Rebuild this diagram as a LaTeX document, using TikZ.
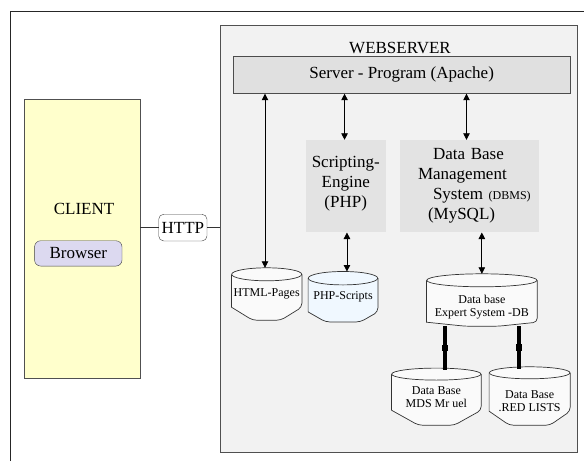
\documentclass[tikz,border=0pt]{standalone}
\usepackage{fontspec}
\setmainfont{Liberation Serif}
\usetikzlibrary{arrows.meta,calc}
\definecolor{webbg}{HTML}{F2F2F2}
\definecolor{apachebg}{HTML}{E0E0E0}
\definecolor{boxbg}{HTML}{E3E3E3}
\definecolor{clientbg}{HTML}{FFFFCC}
\definecolor{browserbg}{HTML}{DCD9F0}
\definecolor{phpbg}{HTML}{F0F8FF}
\definecolor{dbbg}{HTML}{FAFAFA}
\definecolor{framec}{HTML}{505050}
\newcommand{\bigtxt}{\fontsize{17}{20}\selectfont}
\newcommand{\smalltxt}{\fontsize{12}{13}\selectfont}
\newcommand{\dbshape}[6]{%
  \draw[dbline, fill=#2] ([yshift=-#3pt]#1.north west) -- ([yshift=#4pt]#1.south west)
    {[rounded corners=4pt] -- ($(#1.south west)!#5!(#1.south east)$) -- ($(#1.south east)!#5!(#1.south west)$) -- ([yshift=#4pt]#1.south east)}
    -- ([yshift=-#3pt]#1.north east);
  \draw[dbline, fill=#2] ([yshift=-#3pt]#1.north) ellipse [x radius=#6pt, y radius=#3pt];
}
\pgfdeclarelayer{back}
\pgfdeclarelayer{mid}
\pgfsetlayers{back,mid,main}
\tikzset{
  dbline/.style={draw=black!80, line width=0.7pt},
  dbnode/.style={inner sep=0pt, font=\smalltxt, align=center},
  biarrow/.style={{Triangle[width=6.5pt,length=6.5pt]}-{Triangle[width=6.5pt,length=6.5pt]}, line width=0.8pt, draw=black},
  thickconn/.style={line width=3.5pt, draw=black},
  graybox/.style={fill=boxbg, inner sep=0pt, font=\bigtxt},
}
\begin{document}
\begin{tikzpicture}[x=1pt,y=-1pt]
\useasboundingbox (0,0) rectangle (584,461);
\begin{pgfonlayer}{back}
\draw[line width=0.8pt, draw=black!85] (10.3,461) -- (10.3,11.7) -- (584,11.7);
\node[draw=framec, fill=webbg, line width=0.8pt, minimum width=357pt, minimum height=426.6pt, inner sep=0pt] (web) at (398.8,239) {};
\end{pgfonlayer}
\node[font=\bigtxt] (weblbl) at (400,47.5) {WEBSERVER};
\node[draw=black!70, fill=apachebg, line width=0.8pt, minimum width=336.7pt, minimum height=37.3pt, inner sep=0pt, font=\bigtxt] (apache) at (401.65,74.65) {Server - Program (Apache)};

% client side
\node[draw=framec, fill=clientbg, line width=0.8pt, minimum width=115.7pt, minimum height=278.6pt, inner sep=0pt] (client) at (82.15,239) {};
\node[font=\bigtxt] (clientlbl) at (84,209) {CLIENT};
\node[draw=black!75, fill=browserbg, rounded corners=6pt, minimum width=87.4pt, minimum height=25.3pt, inner sep=0pt, font=\bigtxt] (browser) at (78.3,253.4) {Browser};
\node[draw=black!75, fill=white, rounded corners=5pt, minimum width=48.3pt, minimum height=26.7pt, inner sep=0pt, font=\bigtxt] (http) at (182.85,227.6) {HTTP};
\draw[line width=0.8pt, draw=black!80] (client.east |- http.west) -- (http.west);
\draw[line width=0.8pt, draw=black!80] (http.east) -- (web.west |- http.east);

% gray boxes
\node[graybox, minimum width=79.5pt, minimum height=92.3pt, align=center] (script) at (345.75,186.15) {Scripting-\\Engine\\(PHP)\rule[-9pt]{0pt}{1pt}};
\node[graybox, minimum width=139pt, minimum height=92.3pt, text width=134pt, align=left] (dbms) at (469.5,186.15)
  {\hspace*{30.5pt}Data Base\\\hspace*{15.5pt}Management\\\hspace*{30.5pt}System {\fontsize{12}{20}\selectfont(DBMS)}\\\hspace*{25.5pt}(MySQL)};

% cylinders
\node[dbnode, minimum width=70pt, minimum height=52pt] (html) at (266.7,294) {HTML-Pages};
\node[dbnode, minimum width=69.4pt, minimum height=50pt] (php) at (343,296.7) {PHP-Scripts};
\node[dbnode, minimum width=110.3pt, minimum height=52pt] (expert) at (481.85,300) {\rule{0pt}{22pt}Data base\\Expert System -DB};
\node[dbnode, minimum width=89.3pt, minimum height=56.7pt] (mds) at (436.35,396.65) {Data Base\\MDS Mr uel};
\node[dbnode, minimum width=80.7pt, minimum height=58pt] (red) at (529.65,396) {\rule{0pt}{18pt}Data Base\\.RED LISTS};
\begin{pgfonlayer}{mid}
\dbshape{html}{dbbg}{6.5}{13}{0.3}{35}
\dbshape{php}{phpbg}{6.7}{10}{0.25}{34.7}
\dbshape{expert}{dbbg}{6.5}{4}{0.35}{55.15}
\dbshape{mds}{dbbg}{6}{15}{0.3}{44.65}
\dbshape{red}{dbbg}{6}{14}{0.25}{40.35}
\end{pgfonlayer}

% arrows
\draw[biarrow] ([xshift=-1.7pt]html.north |- apache.south) -- ([xshift=-1.7pt]html.north);
\draw[biarrow] ([xshift=-1.2pt]script.north |- apache.south) -- ([xshift=-1.2pt]script.north);
\draw[biarrow] ([xshift=-3pt]dbms.north |- apache.south) -- ([xshift=-3pt]dbms.north);
\draw[biarrow] ([xshift=1.2pt]script.south) -- ([xshift=1.2pt]script.south |- php.north);
\draw[biarrow] (expert.north |- dbms.south) -- (expert.north);

% thick connectors
\draw[thickconn] ([xshift=8.65pt]mds.north |- expert.south) -- ([xshift=8.65pt,yshift=-2pt]mds.north);
\draw[line width=6pt] ($([xshift=8.65pt]mds.north |- expert.south)!0.45!([xshift=8.65pt]mds.north)$) -- ($([xshift=8.65pt]mds.north |- expert.south)!0.6!([xshift=8.65pt]mds.north)$);
\draw[thickconn] ([xshift=-10.6pt]red.north |- expert.south) -- ([xshift=-10.6pt,yshift=-2pt]red.north);
\draw[line width=6pt] ($([xshift=-10.6pt]red.north |- expert.south)!0.45!([xshift=-10.6pt]red.north)$) -- ($([xshift=-10.6pt]red.north |- expert.south)!0.6!([xshift=-10.6pt]red.north)$);
\end{tikzpicture}
\end{document}
